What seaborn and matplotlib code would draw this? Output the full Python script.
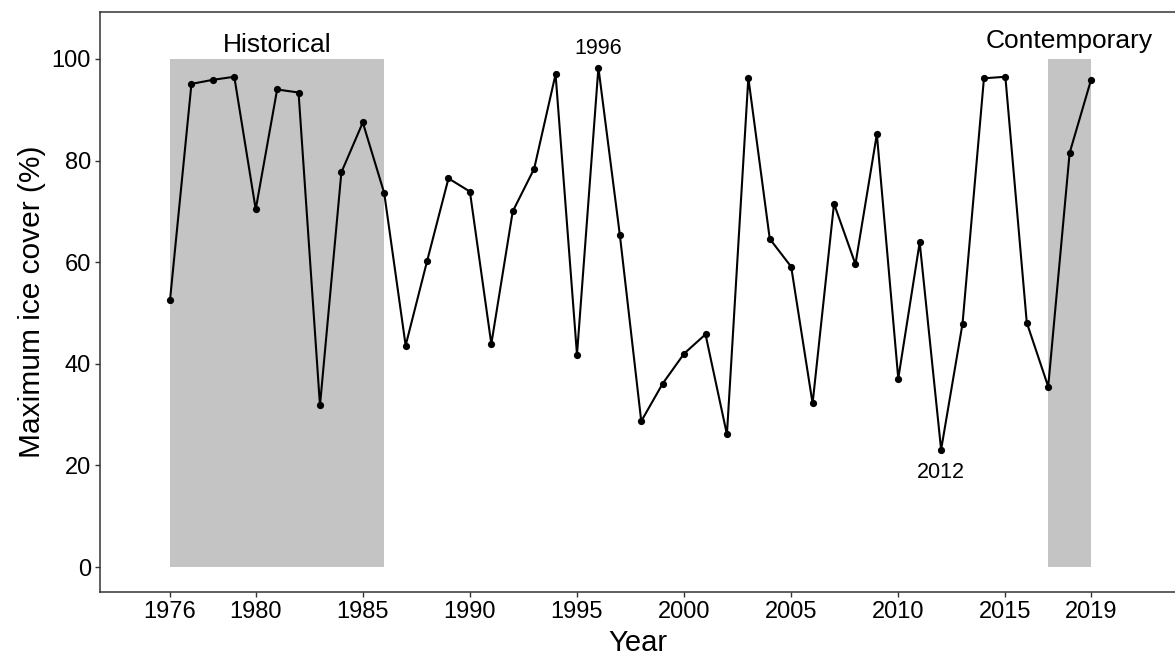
import matplotlib
matplotlib.use("Agg")
import matplotlib.pyplot as plt
import seaborn as sns
import pandas as pd

# Annual maximum ice cover, 1976-2019
years = list(range(1976, 2020))
ice_cover = [
    52.6, 95.1, 95.9, 96.5, 70.4, 94.0, 93.4, 31.8, 77.7, 87.5, 73.6,   # 1976-1986
    43.6, 60.2, 76.5, 73.9, 43.9, 70.0, 78.4, 97.0, 41.8, 98.3, 65.4,   # 1987-1997
    28.7, 36.1, 42.0, 45.8, 26.1, 96.3, 64.6, 59.1, 32.2, 71.5, 59.6,   # 1998-2008
    85.2, 37.1, 63.9, 23.1, 47.9, 96.2, 96.5, 48.1, 35.5, 81.5, 95.9,   # 2009-2019
]

# Study periods shaded behind the series
period_names = ["Historical", "Contemporary"]
period_start = [1976, 2017]
period_end = [1986, 2019]
period_label_x = [1981, 2018]
period_label_y = [101.4, 102.2]

# Highlighted years
note_years = [1996, 2012]
note_y = [101.0, 17.5]

x_ticks = [1976, 1980, 1985, 1990, 1995, 2000, 2005, 2010, 2015, 2019]
y_ticks = [0, 20, 40, 60, 80, 100]

df = pd.DataFrame({"Year": years, "Ice": ice_cover})

sns.set_theme(style="white")
plt.rcParams["font.family"] = ["Liberation Sans", "DejaVu Sans"]

fig = plt.figure(figsize=(11.75, 6.55), dpi=100)
ax = fig.add_axes([100 / 1175, 1 - 592 / 655, 1 - 100 / 1175, (592 - 12) / 655])

for s, e in zip(period_start, period_end):
    ax.fill_between([s, e], 0, 100, color="#c4c4c4", linewidth=0, zorder=0)

sns.lineplot(data=df, x="Year", y="Ice", ax=ax, color="black", linewidth=1.5,
             marker="o", markersize=5.2, markeredgewidth=0, zorder=3)

for name, lx, ly in zip(period_names, period_label_x, period_label_y):
    ax.text(lx, ly, name, ha="center", va="baseline", fontsize=19, color="black")

for yr, ny in zip(note_years, note_y):
    ax.text(yr, ny, str(yr), ha="center", va="baseline", fontsize=15.5, color="black")

ax.set_xlim(1972.73, 2022.92)
ax.set_ylim(-4.92, 109.25)
ax.set_xticks(x_ticks)
ax.set_yticks(y_ticks)
ax.set_xlabel("Year", fontsize=21, color="black", labelpad=4)
ax.set_ylabel("Maximum ice cover (%)", fontsize=21.5, color="black", labelpad=4)

ax.tick_params(axis="both", which="major", direction="out", length=3.6, width=1.0,
               color="#333333", labelsize=17, labelcolor="black", pad=3,
               bottom=True, left=True)

for side in ["left", "bottom", "top"]:
    ax.spines[side].set_visible(True)
    ax.spines[side].set_color("#333333")
    ax.spines[side].set_linewidth(1.1)
ax.spines["right"].set_visible(False)
ax.grid(False)

fig.savefig("out.png", dpi=100)
